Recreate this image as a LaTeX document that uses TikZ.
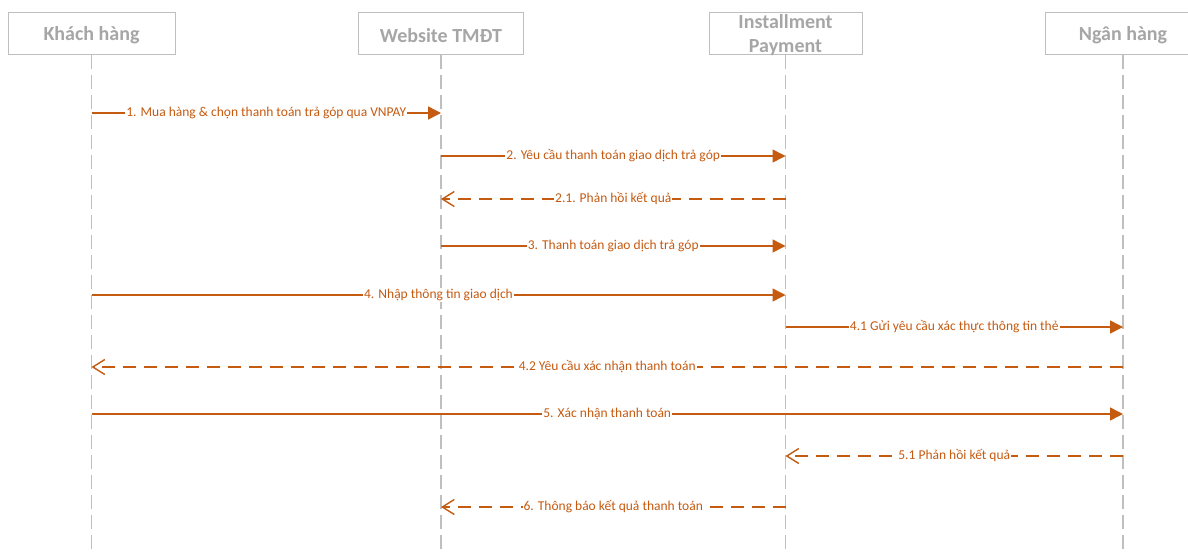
\documentclass[tikz,border=0pt]{standalone}
\usepackage{fontspec}
\setmainfont{Carlito}
\usetikzlibrary{arrows.meta}
\definecolor{msgc}{RGB}{197,90,17}
\definecolor{headtxt}{RGB}{166,166,166}
\definecolor{headline}{RGB}{191,191,191}
\definecolor{lifec}{RGB}{191,191,191}
\tikzset{
  actor/.style={draw=headline, line width=1pt, minimum height=42pt, inner sep=0pt},
  actortext/.style={inner sep=0pt, font=\fontsize{20}{24}\selectfont\bfseries,
    text=headtxt, align=center},
  lifeline/.style={draw=lifec, line width=1.5pt, dash pattern=on 14pt off 6pt},
  call/.style={draw=msgc, line width=1.4pt, -{Triangle[length=13pt,width=13pt]}},
  reply/.style={draw=msgc, line width=1.4pt, dash pattern=on 13pt off 8pt,
    -{Straight Barb[length=12pt,width=15pt]}},
  lbl/.style={fill=white, inner sep=1pt, text=msgc, font=\fontsize{13.5}{16}\selectfont}
}
\begin{document}
\begin{tikzpicture}[x=1pt,y=-1pt]
\clip (0,0) rectangle (1188,552);
\fill[white] (0,0) rectangle (1188,552);

% participant boxes
\node[actor, minimum width=167pt] (k) at (91.5,33) {};
\node[actor, minimum width=165pt] (w) at (441,33) {};
\node[actor, minimum width=153pt] (p) at (785.5,33) {};
\node[actor, minimum width=156pt] (n) at (1123,33) {};
% participant names
\node[actortext] (kt) at ([yshift=-2.5pt]k.center) {Khách hàng};
\node[actortext] (wt) at ([yshift=-2.5pt]w.center) {Website TMĐT};
\node[actortext] (pt) at ([yshift=-2pt]p.center) {Installment\\Payment};
\node[actortext] (nt) at ([yshift=-2.5pt]n.center) {Ngân hàng};

% lifelines
\foreach \a in {k,w,p,n}{
  \coordinate (\a end) at (\a.south |- 0,560);
  \draw[lifeline] (\a.south) -- (\a end);
}

% message endpoints on the lifelines
\coordinate (m1a) at (k.south |- 0,113); \coordinate (m1b) at (w.south |- 0,113);
\coordinate (m2a) at (w.south |- 0,156); \coordinate (m2b) at (p.south |- 0,156);
\coordinate (m21a) at (p.south |- 0,199); \coordinate (m21b) at (w.south |- 0,199);
\coordinate (m3a) at (w.south |- 0,246); \coordinate (m3b) at (p.south |- 0,246);
\coordinate (m4a) at (k.south |- 0,295); \coordinate (m4b) at (p.south |- 0,295);
\coordinate (m41a) at (p.south |- 0,327); \coordinate (m41b) at (n.south |- 0,327);
\coordinate (m42a) at (n.south |- 0,367); \coordinate (m42b) at (k.south |- 0,367);
\coordinate (m5a) at (k.south |- 0,414); \coordinate (m5b) at (n.south |- 0,414);
\coordinate (m51a) at (n.south |- 0,456); \coordinate (m51b) at (p.south |- 0,456);
\coordinate (m6a) at (p.south |- 0,507); \coordinate (m6b) at (w.south |- 0,507);

% messages
\draw[call] (m1a) -- node[lbl] (t1) {1. Mua hàng \& chọn thanh toán trả góp qua VNPAY} (m1b);
\draw[call] (m2a) -- node[lbl] (t2) {2. Yêu cầu thanh toán giao dịch trả góp} (m2b);
\draw[reply] (m21a) -- node[lbl] (t21) {2.1. Phản hồi kết quả} (m21b);
\draw[call] (m3a) -- node[lbl] (t3) {3. Thanh toán giao dịch trả góp} (m3b);
\draw[call] (m4a) -- node[lbl] (t4) {4. Nhập thông tin giao dịch} (m4b);
\draw[call] (m41a) -- node[lbl] (t41) {4.1 Gửi yêu cầu xác thực thông tin thẻ} (m41b);
\draw[reply] (m42a) -- node[lbl] (t42) {4.2 Yêu cầu xác nhận thanh toán} (m42b);
\draw[call] (m5a) -- node[lbl] (t5) {5. Xác nhận thanh toán} (m5b);
\draw[reply] (m51a) -- node[lbl] (t51) {5.1 Phản hồi kết quả} (m51b);
\draw[reply] (m6a) -- node[lbl] (t6) {6. Thông báo kết quả thanh toán} (m6b);
\end{tikzpicture}
\end{document}
